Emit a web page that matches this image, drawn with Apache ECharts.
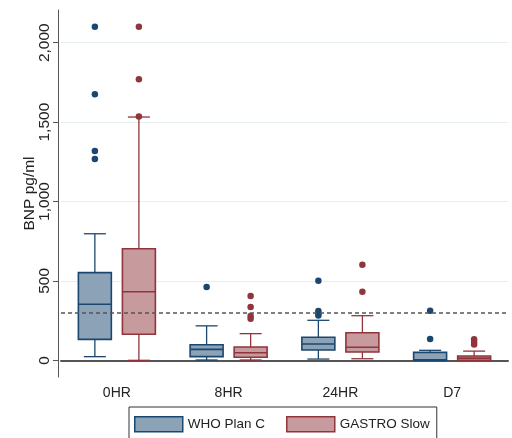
<!DOCTYPE html>
<html>
<head>
<meta charset="utf-8">
<script src="https://cdn.jsdelivr.net/npm/echarts@6/dist/echarts.min.js"></script>
<style>html,body{margin:0;padding:0;background:#fff}#c{width:512px;height:438px}</style>
</head>
<body>
<div id="c"></div>
<script>
// ---- data ----
const categories = ['0HR', '8HR', '24HR', 'D7'];
const seriesNames = ['WHO Plan C', 'GASTRO Slow'];
// [min, Q1, median, Q3, max] per category
const whoBox = [
  [23, 132, 353, 552, 797],
  [2, 23, 69, 98, 217],
  [8, 65, 103, 145, 252],
  [0, 0, 3, 50, 63]
];
const gastroBox = [
  [0, 164, 432, 703, 1532],
  [2, 19, 48, 84, 168],
  [10, 52, 82, 174, 281],
  [0, 0, 14, 27, 58]
];
// outliers [category, value]
const whoOut = [
  ['0HR', 2100], ['0HR', 1675], ['0HR', 1318], ['0HR', 1268],
  ['8HR', 462],
  ['24HR', 501], ['24HR', 310], ['24HR', 296], ['24HR', 283],
  ['D7', 312], ['D7', 134]
];
const gastroOut = [
  ['0HR', 2100], ['0HR', 1770], ['0HR', 1536],
  ['8HR', 405], ['8HR', 336], ['8HR', 279], ['8HR', 262],
  ['24HR', 602], ['24HR', 432],
  ['D7', 132], ['D7', 115], ['D7', 100]
];
const yTicks = [0, 500, 1000, 1500, 2000];
const refLine = 300;

// ---- styles ----
const FONT = 'Liberation Sans';
const blueLine = '#1a476f', blueFill = '#8ca3b7';
const redLine = '#90353b', redFill = '#c79a9d';
const OFFSET = 0.197, BOXW = 0.295, CAPW = 0.197;

function makeRender(side, stroke, fill) {
  return function (params, api) {
    const cat = api.value(0);
    const v = [api.value(1), api.value(2), api.value(3), api.value(4), api.value(5)];
    const band = api.size([1, 0])[0];
    const cx = api.coord([cat, v[2]])[0] + side * OFFSET * band;
    const y = v.map(val => api.coord([cat, val])[1]);
    const bw = BOXW * band, cw = CAPW * band;
    const ls = { stroke: stroke, lineWidth: 1.3, fill: null };
    return {
      type: 'group',
      children: [
        { type: 'line', shape: { x1: cx, y1: y[3], x2: cx, y2: y[4] }, style: ls },
        { type: 'line', shape: { x1: cx, y1: y[0], x2: cx, y2: y[1] }, style: ls },
        { type: 'line', shape: { x1: cx - cw / 2, y1: y[4], x2: cx + cw / 2, y2: y[4] }, style: ls },
        { type: 'line', shape: { x1: cx - cw / 2, y1: y[0], x2: cx + cw / 2, y2: y[0] }, style: ls },
        { type: 'rect', shape: { x: cx - bw / 2, y: y[3], width: bw, height: y[1] - y[3] },
          style: { fill: fill, stroke: stroke, lineWidth: 1.6 } },
        { type: 'line', shape: { x1: cx - bw / 2, y1: y[2], x2: cx + bw / 2, y2: y[2] },
          style: { stroke: stroke, lineWidth: 1.6 } }
      ]
    };
  };
}

function boxData(arr) {
  return arr.map((b, i) => [i].concat(b));
}

const chart = echarts.init(document.getElementById('c'), null, { renderer: 'canvas' });
chart.setOption({
  animation: false,
  backgroundColor: '#ffffff',
  textStyle: { fontFamily: FONT },
  grid: { left: 61, right: 4, top: 10, bottom: 61 },
  xAxis: {
    type: 'category',
    data: categories,
    axisLine: { lineStyle: { color: '#555', width: 2 } },
    axisTick: { show: false },
    axisLabel: { color: '#222', fontSize: 14, margin: 9, fontFamily: FONT },
    splitLine: { show: false }
  },
  yAxis: {
    type: 'value',
    min: -105,
    max: 2206,
    offset: 3,
    name: 'BNP pg/ml',
    nameLocation: 'middle',
    nameGap: 20,
    nameMoveOverlap: false,
    nameRotate: 90,
    nameTextStyle: { color: '#222', fontSize: 15.5, fontFamily: FONT },
    axisLine: { show: true, lineStyle: { color: '#555', width: 1 } },
    axisTick: { show: true, length: 5, customValues: yTicks, lineStyle: { color: '#555' } },
    axisLabel: {
      rotate: 90, color: '#222', fontSize: 15.5, margin: 5, fontFamily: FONT,
      customValues: yTicks,
      formatter: v => v.toLocaleString('en-US')
    },
    splitLine: { show: true, lineStyle: { color: '#e6eff0', width: 1 } }
  },
  legend: {
    left: 129,
    top: 407,
    data: [
      { name: seriesNames[0], icon: 'rect', itemStyle: { color: blueFill, borderColor: blueLine, borderWidth: 1.5 } },
      { name: seriesNames[1], icon: 'rect', itemStyle: { color: redFill, borderColor: redLine, borderWidth: 1.5 } }
    ],
    itemWidth: 48,
    itemHeight: 15,
    itemGap: 21,
    padding: [9, 7, 6, 5],
    borderColor: '#333',
    borderWidth: 1,
    textStyle: { color: '#222', fontSize: 13.5, fontFamily: FONT }
  },
  series: [
    {
      name: seriesNames[0], type: 'custom',
      renderItem: makeRender(-1, blueLine, blueFill),
      encode: { x: 0, y: [1, 2, 3, 4, 5] },
      itemStyle: { color: blueFill, borderColor: blueLine },
      data: boxData(whoBox), z: 3
    },
    {
      name: seriesNames[1], type: 'custom',
      renderItem: makeRender(1, redLine, redFill),
      encode: { x: 0, y: [1, 2, 3, 4, 5] },
      itemStyle: { color: redFill, borderColor: redLine },
      data: boxData(gastroBox), z: 3
    },
    {
      name: 'who-out', type: 'scatter', symbol: 'circle', symbolSize: 6.5,
      symbolOffset: [-22, 0],
      itemStyle: { color: blueLine, opacity: 1 },
      data: whoOut, z: 4,
      markLine: {
        silent: true, symbol: 'none', label: { show: false },
        lineStyle: { type: [4, 3], color: '#555', width: 1.5 },
        data: [{ yAxis: refLine }]
      }
    },
    {
      name: 'gastro-out', type: 'scatter', symbol: 'circle', symbolSize: 6.5,
      symbolOffset: [22, 0],
      itemStyle: { color: redLine, opacity: 1 },
      data: gastroOut, z: 4
    }
  ]
});
</script>
</body>
</html>
